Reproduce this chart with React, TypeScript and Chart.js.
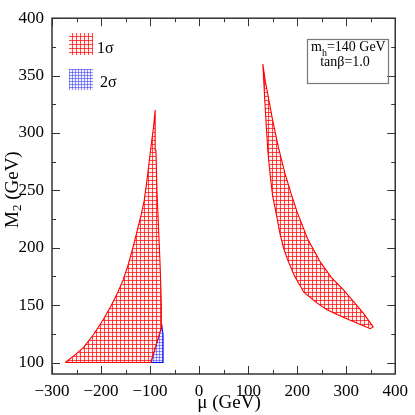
import React, { useEffect, useRef } from "react";
import { Chart, registerables } from "chart.js";
Chart.register(...registerables);

// ---- data ----
const xTicks = [-300, -200, -100, 0, 100, 200, 300, 400];
const yTicks = [100, 150, 200, 250, 300, 350, 400];
const xMinor = [-250, -150, -50, 50, 150, 250, 350];
const yMinor = [125, 175, 225, 275, 325, 375];

// 1 sigma region, mu < 0 (outline, clockwise)
const sigma1LeftMu = [-273, -98.5, -76, -77, -78, -80, -83, -86, -88, -89.6, -93, -97, -101, -106, -112, -118, -125, -135, -145.5, -155, -166, -180, -196, -216, -236, -255, -273];
const sigma1LeftM2 = [100, 100, 132, 150, 165, 190, 220, 250, 285, 320, 305, 292, 278, 260, 241, 229, 217, 200, 184, 172, 161, 149, 137, 124, 113, 106, 100];

// 2 sigma region, mu < 0
const sigma2LeftMu = [-98.5, -73.5, -73.5, -76, -98.5];
const sigma2LeftM2 = [100, 100, 124, 132, 100];

// 1 sigma region, mu > 0 (upper edge then lower edge)
const sigma1RightMu = [130, 135, 140, 150, 162, 175, 187, 200, 221, 248, 270, 295, 315, 335, 355, 349, 330, 302, 280, 261, 240, 214, 195, 181, 172, 165, 158, 150, 145, 140, 135, 130];
const sigma1RightM2 = [360, 345, 334, 311, 287, 265, 248, 231, 208, 187, 174, 163, 153, 143, 131, 129.5, 133, 138, 142, 146, 152, 161, 175, 189, 200, 212, 228, 245, 263, 285, 320, 360];

const legendLabels = ["1σ", "2σ"];
const noteLine1 = ["m", "h", "=140 GeV"];
const noteLine2 = "tanβ=1.0";
const xTitle = "μ (GeV)";
const yTitle = ["M", "2", " (GeV)"];

const SERIF = "'Liberation Serif', 'DejaVu Serif', serif";

function makePattern(kind: "red" | "blue"): CanvasPattern | string {
  const c = document.createElement("canvas");
  const n = kind === "red" ? 4 : 3;
  c.width = n;
  c.height = n;
  const g = c.getContext("2d");
  if (!g) return kind === "red" ? "#f88" : "#88f";
  if (kind === "red") {
    g.fillStyle = "#fff2f2";
    g.fillRect(0, 0, n, n);
    g.fillStyle = "rgba(255,0,0,0.7)";
    g.fillRect(0, 0, n, 1);
    g.fillRect(0, 0, 1, n);
  } else {
    g.fillStyle = "#f2f2ff";
    g.fillRect(0, 0, n, n);
    g.fillStyle = "rgba(60,60,255,0.55)";
    g.fillRect(0, 0, n, 1);
    g.fillRect(0, 0, 1, n);
  }
  const p = g.createPattern(c, "repeat");
  return p || (kind === "red" ? "#f88" : "#88f");
}

function zip(xs: number[], ys: number[]) {
  return xs.map((x, i) => ({ x, y: ys[i] }));
}

export default function App() {
  const ref = useRef<HTMLCanvasElement | null>(null);

  useEffect(() => {
    const canvas = ref.current;
    if (!canvas) return;
    const redPat = makePattern("red");
    const bluePat = makePattern("blue");

    const decor = {
      id: "decor",
      afterDraw(chart: any) {
        const ctx = chart.ctx as CanvasRenderingContext2D;
        const a = chart.chartArea;
        const xs = chart.scales.x;
        const ys = chart.scales.y;
        ctx.save();
        // ticks (inward, all four sides)
        ctx.strokeStyle = "#333";
        ctx.lineWidth = 1;
        ctx.beginPath();
        const tx = (vals: number[], len: number) => {
          vals.forEach((v) => {
            const px = Math.round(xs.getPixelForValue(v)) + 0.5;
            ctx.moveTo(px, a.bottom);
            ctx.lineTo(px, a.bottom - len);
            ctx.moveTo(px, a.top);
            ctx.lineTo(px, a.top + len);
          });
        };
        const ty = (vals: number[], len: number) => {
          vals.forEach((v) => {
            const py = Math.round(ys.getPixelForValue(v)) + 0.5;
            ctx.moveTo(a.left, py);
            ctx.lineTo(a.left + len, py);
            ctx.moveTo(a.right, py);
            ctx.lineTo(a.right - len, py);
          });
        };
        tx(xTicks, 8);
        tx(xMinor, 4);
        ty(yTicks, 8);
        ty(yMinor, 4);
        ctx.stroke();
        // frame
        ctx.lineWidth = 1.5;
        ctx.strokeStyle = "#333";
        ctx.strokeRect(a.left, a.top, a.right - a.left, a.bottom - a.top);

        // legend
        ctx.fillStyle = redPat as any;
        ctx.fillRect(69, 33, 24, 22);
        ctx.fillStyle = bluePat as any;
        ctx.fillRect(69, 69, 24, 21);
        ctx.fillStyle = "#000";
        ctx.font = `16px ${SERIF}`;
        ctx.textBaseline = "alphabetic";
        ctx.textAlign = "left";
        ctx.fillText(legendLabels[0], 97, 53);
        ctx.fillText(legendLabels[1], 100, 87);

        // note box
        ctx.strokeStyle = "#777";
        ctx.lineWidth = 1.2;
        ctx.strokeRect(307.5, 39.5, 81, 44);
        ctx.font = `14px ${SERIF}`;
        let x = 311;
        ctx.fillText(noteLine1[0], x, 51);
        x += ctx.measureText(noteLine1[0]).width;
        ctx.font = `10px ${SERIF}`;
        ctx.fillText(noteLine1[1], x, 56);
        x += ctx.measureText(noteLine1[1]).width;
        ctx.font = `14px ${SERIF}`;
        ctx.fillText(noteLine1[2], x, 51);
        ctx.textAlign = "center";
        ctx.fillText(noteLine2, 345, 66);

        // x title
        ctx.font = `19px ${SERIF}`;
        ctx.textAlign = "center";
        ctx.fillText(xTitle, 229, 408);

        // y title (rotated)
        ctx.translate(18, 228);
        ctx.rotate(-Math.PI / 2);
        ctx.textAlign = "left";
        let t = 0;
        ctx.font = `19px ${SERIF}`;
        ctx.fillText(yTitle[0], t, 0);
        t += ctx.measureText(yTitle[0]).width;
        ctx.font = `13px ${SERIF}`;
        ctx.fillText(yTitle[1], t, 3);
        t += ctx.measureText(yTitle[1]).width;
        ctx.font = `19px ${SERIF}`;
        ctx.fillText(yTitle[2], t, 0);
        ctx.restore();
      },
    };

    const chart = new Chart(canvas, {
      type: "scatter",
      data: {
        datasets: [
          {
            data: zip(sigma1LeftMu, sigma1LeftM2),
            showLine: true,
            fill: "shape",
            backgroundColor: redPat as any,
            borderColor: "#ff0000",
            borderWidth: 1.1,
            pointRadius: 0,
            tension: 0,
          },
          {
            data: zip(sigma2LeftMu, sigma2LeftM2),
            showLine: true,
            fill: "shape",
            backgroundColor: bluePat as any,
            borderColor: "#0000ff",
            borderWidth: 1.1,
            pointRadius: 0,
            tension: 0,
          },
          {
            data: zip(sigma1RightMu, sigma1RightM2),
            showLine: true,
            fill: "shape",
            backgroundColor: redPat as any,
            borderColor: "#ff0000",
            borderWidth: 1.1,
            pointRadius: 0,
            tension: 0,
          },
        ],
      } as any,
      options: {
        responsive: false,
        animation: false,
        layout: { padding: { top: 7, right: 16, left: 0, bottom: 0 } },
        plugins: {
          legend: { display: false },
          tooltip: { enabled: false },
        },
        events: [],
        scales: {
          x: {
            type: "linear",
            min: -300,
            max: 400,
            grid: { display: false, drawTicks: false },
            border: { display: false },
            afterBuildTicks: (s: any) => {
              s.ticks = xTicks.map((v) => ({ value: v }));
            },
            afterFit: (s: any) => {
              s.height = 41;
            },
            ticks: {
              padding: 7,
              color: "#000",
              font: { family: SERIF, size: 17 },
              maxRotation: 0,
              autoSkip: false,
              callback: (v: any) => (Number(v) < 0 ? "\u2212" + Math.abs(Number(v)) : String(v)),
            },
          },
          y: {
            type: "linear",
            min: 90,
            max: 400,
            grid: { display: false, drawTicks: false },
            border: { display: false },
            afterBuildTicks: (s: any) => {
              s.ticks = yTicks.map((v) => ({ value: v }));
            },
            afterFit: (s: any) => {
              s.width = 52;
            },
            ticks: {
              padding: 8,
              color: "#000",
              font: { family: SERIF, size: 17 },
              autoSkip: false,
              callback: (v: any) => String(v),
            },
          },
        },
      } as any,
      plugins: [decor],
    });
    return () => chart.destroy();
  }, []);

  return (
    <div style={{ position: "absolute", left: 0, top: 0, width: 415, height: 415, background: "#fff" }}>
      <canvas ref={ref} width={415} height={415} style={{ display: "block" }} />
    </div>
  );
}
